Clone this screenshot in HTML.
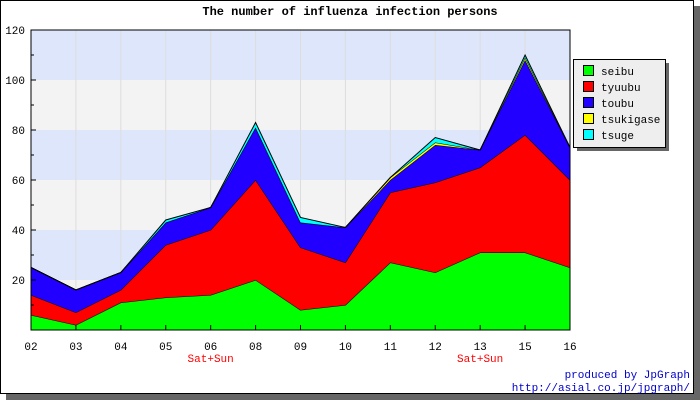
<!DOCTYPE html>
<html><head><meta charset="utf-8"><style>
body{margin:0;background:#fff}
svg text{font-family:"Liberation Mono","DejaVu Sans Mono",monospace}
</style></head><body>
<svg id="c" width="700" height="400" xmlns="http://www.w3.org/2000/svg">
<rect x="6" y="6" width="694" height="394" fill="#666"/>
<rect x="0.5" y="0.5" width="693" height="393" fill="#fff" stroke="#000"/>
<text x="350" y="15" text-anchor="middle" font-size="12" font-weight="bold">The number of influenza infection persons</text>
<g id="bands"></g><g id="areas"></g><g id="axes"></g>
<g>
<rect x="577" y="63" width="92" height="88" fill="#666"/>
<rect x="573.5" y="59.5" width="92" height="88" fill="#eee" stroke="#000"/>
<g id="leg"></g></g>
<text x="690" y="378" text-anchor="end" font-size="11" fill="#00c">produced by JpGraph</text>
<text x="690" y="391" text-anchor="end" font-size="11" fill="#00c">http://asial.co.jp/jpgraph/</text>
</svg>
<script>
const categories=["02","03","04","05","06","08","09","10","11","12","13","15","16"];
const seibu=[6,2,11,13,14,20,8,10,27,23,31,31,25];
const tyuubu=[8,5,5,21,26,40,25,17,28,36,34,47,35];
const toubu=[11,9,7,9,9,21,10,14,5,15,7,30,13];
const tsukigase=[0,0,0,0,0,0,0,0,1,1,0,1,0];
const tsuge=[0,0,0,1,0,2,2,0,0,2,0,1,0];
const yTicks=[20,40,60,80,100,120];
const weekendIdx=[4,10];
const NS="http://www.w3.org/2000/svg";
const L=31,R=570,T=30,B=330,YMAX=120;
const xs=i=>L+i*(R-L)/(categories.length-1);
const ys=v=>B-v*(B-T)/YMAX;
function mk(t,a,p){const e=document.createElementNS(NS,t);for(const k in a)e.setAttribute(k,a[k]);p.appendChild(e);return e;}
const bands=document.getElementById('bands');
for(let v=0;v<YMAX;v+=20){const r=mk('rect',{x:L,y:ys(v+20),width:R-L,height:ys(v)-ys(v+20),fill:(v/20)%2?'#f3f3f3':'#dde6fa'},bands);
if(v==0)r.setAttribute('fill','#f3f3f3');

}
for(let v=0;v<YMAX;v+=20){bands.lastChild;}
// recolor bands properly: 100-120 blue, 80-100 gray, ...
[...bands.children].forEach((r,i)=>r.setAttribute('fill',i%2==0?'#f3f3f3':'#dde6fa'));
[...bands.children].forEach((r,i)=>{if(i%2==1)r.setAttribute('fill','#dde6fa');});
categories.forEach((c,i)=>{const g=mk('line',{x1:xs(i),x2:xs(i),y1:T,y2:B,stroke:'#ddd'},bands);

});
const series=[["seibu",seibu,"#00ff00"],["tyuubu",tyuubu,"#ff0000"],["toubu",toubu,"#2200ff"],["tsukigase",tsukigase,"#ffff00"],["tsuge",tsuge,"#00ffff"]];
const areas=document.getElementById('areas');
let base=categories.map(()=>0);
series.forEach(([n,d,col])=>{const top=base.map((b,i)=>b+d[i]);
let pts=top.map((v,i)=>xs(i)+','+ys(v));
for(let i=base.length-1;i>=0;i--)pts.push(xs(i)+','+ys(base[i]));
const p=mk('polygon',{points:pts.join(' '),fill:col,stroke:'none'},areas);


const l=mk('polyline',{points:top.map((v,i)=>xs(i)+','+ys(v)).join(' '),fill:'none',stroke:'#000','stroke-width':1},areas);


base=top;});
const ax=document.getElementById('axes');
mk('rect',{x:L,y:T,width:R-L,height:B-T,fill:'none',stroke:'#000'},ax);
yTicks.forEach(v=>{mk('line',{x1:L,x2:L+5,y1:ys(v),y2:ys(v),stroke:'#000'},ax);
mk('line',{x1:L,x2:L+3,y1:ys(v-10),y2:ys(v-10),stroke:'#000'},ax);
const t=mk('text',{x:L-6,y:ys(v)+4,'text-anchor':'end','font-size':11},ax);t.textContent=v;

});
categories.forEach((c,i)=>{mk('line',{x1:xs(i),x2:xs(i),y1:B,y2:B-5,stroke:'#000'},ax);
const t=mk('text',{x:xs(i),y:350,'text-anchor':'middle','font-size':11},ax);t.textContent=c;

});
weekendIdx.forEach(i=>{const t=mk('text',{x:xs(i),y:362,'text-anchor':'middle','font-size':11,fill:'#f00'},ax);t.textContent='Sat+Sun';

});
const leg=document.getElementById('leg');
series.forEach(([n,d,col],i)=>{const y=65+i*16;
mk('rect',{x:583.5,y:y+0.5,width:10,height:10,fill:col,stroke:'#000'},leg);
const t=mk('text',{x:601,y:y+10,'font-size':11},leg);t.textContent=n;

});
</script>
</body></html>
